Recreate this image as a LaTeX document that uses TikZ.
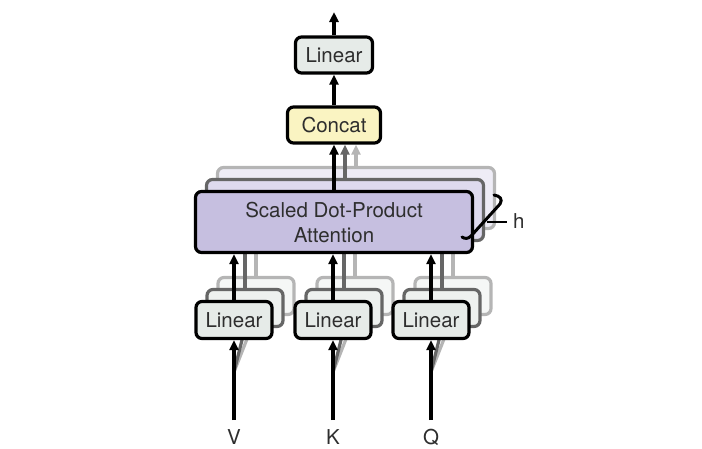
\documentclass[tikz,border=0pt]{standalone}
\usepackage{fontspec}
\setmainfont{TeX Gyre Heros}
\usetikzlibrary{arrows.meta}
\definecolor{linfill}{HTML}{E6EBE8}
\definecolor{catfill}{HTML}{FAF4C2}
\definecolor{attfill}{HTML}{C6BFE0}
\definecolor{attfillb}{HTML}{DEDAEE}
\definecolor{attfillc}{HTML}{EEECF6}
\definecolor{linfillb}{HTML}{EEF1EF}
\definecolor{linfillc}{HTML}{F5F7F6}
\definecolor{darkg}{HTML}{666666}
\definecolor{lightg}{HTML}{B5B5B5}
\definecolor{txt}{HTML}{2E2E2E}
\tikzset{
  box/.style={draw=black, line width=3.2pt, rounded corners=6pt, inner sep=0pt, font=\fontsize{20.5}{25}\selectfont, text=txt, align=center},
  linbox/.style={box, fill=linfill, minimum width=76pt, minimum height=37pt},
  linback/.style={linbox, fill=linfillb, draw=darkg, text opacity=0},
  linbackc/.style={linbox, fill=linfillc, draw=lightg, text opacity=0},
  attbox/.style={box, fill=attfill, minimum width=277pt, minimum height=61pt},
  attback/.style={attbox, fill=attfillb, draw=darkg},
  attbackc/.style={attbox, fill=attfillc, draw=lightg},
  arr/.style={line width=3.2pt, -{Triangle[length=10pt,width=9pt]}},
  garr/.style={arr, draw=darkg, fill=darkg},
  larr/.style={arr, draw=lightg, fill=lightg},
  gline/.style={line width=3.2pt, draw=darkg},
  lline/.style={line width=3.2pt, draw=lightg},
  lab/.style={font=\fontsize{20.5}{25}\selectfont, text=txt, inner sep=0pt}
}
\begin{document}
\begin{tikzpicture}[x=1pt,y=-1pt]
\useasboundingbox (0,0) rectangle (702,448);
% back attention copies
\node[attbackc] (att3) at (356,198) {};
\node[attback] (att2) at (345,210) {};
% back linear copies
\foreach \n/\x in {v/234,k/333,q/431}{
  \node[linbackc] (\n3) at (\x+22,296) {};
  \node[linback] (\n2) at (\x+11,308) {};
}
% grey arrows to concat
\node[box, fill=catfill, minimum width=93pt, minimum height=36pt] (concat) at (334,125) {Concat};
\draw[larr] (att3.north -| 356,0) -- (356,0 |- concat.south);
\draw[garr] (att2.north -| 345,0) -- (345,0 |- concat.south);
% grey connectors from back linear copies to back attention copies
\foreach \n/\x in {v/234,k/333,q/431}{
  \draw[lline] (\n3.north) -- (\n3.north |- att3.south);
  \draw[gline] (\n2.north) -- (\n2.north |- att2.south);
}
% inputs
\foreach \n/\x/\t in {v/234/V,k/333/K,q/431/Q}{
  \coordinate (\n in) at (\x,420);
  \coordinate (\n br) at (\x,372);
  \draw[lline] (\n br) -- (\n3.south);
  \draw[gline] (\n br) -- (\n2.south);
  \node[lab] (\n lab) at (\x,437) {\t};
}
% front boxes
\node[attbox] (att) at (334,222) {Scaled Dot-Product\\Attention};
\node[linbox] (vlin) at (234,320) {Linear};
\node[linbox] (klin) at (333,320) {Linear};
\node[linbox] (qlin) at (431,320) {Linear};
\node[linbox, minimum width=77pt, minimum height=36pt] (top) at (334,55) {Linear};
\coordinate (out) at (334,12);
% black arrows
\draw[arr] (top.north) -- (out);
\draw[arr] (concat.north) -- (top.south);
\draw[arr] (att.north) -- (concat.south);
\foreach \n in {v,k,q}{
  \draw[arr] (\n lin.north) -- (\n lin.north |- att.south);
  \draw[arr] (\n in) -- (\n lin.south);
}
% h brace
\draw[line width=3pt, line cap=round] (494,195) .. controls (500,196) and (503,199) .. (500,204) -- (471,236) .. controls (468,239) and (465,239) .. (462,237);
\draw[line width=2.2pt] (487,222) -- (507,222);
\node[lab, anchor=west] (h) at (513,221) {h};
\end{tikzpicture}
\end{document}
